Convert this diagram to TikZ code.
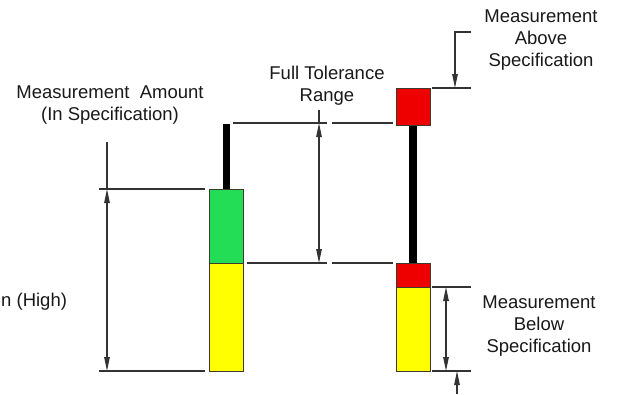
\documentclass[tikz,border=0pt]{standalone}
\usepackage{fontspec}
\setmainfont{Liberation Sans}
\usetikzlibrary{arrows.meta}
\begin{document}
\begin{tikzpicture}[x=1pt,y=-1pt,
  lbl/.style={font=\fontsize{18.5}{22}\selectfont, align=center, inner sep=0pt, text=black!90},
  dimline/.style={draw=black!80, line width=1.1pt},
  tip/.style={-{Triangle[length=14pt,width=5.5pt]}},
  tips/.style={{Triangle[length=14pt,width=5.5pt]}-{Triangle[length=14pt,width=5.5pt]}},
  barbox/.style={draw=black!75!olive, line width=0.9pt, inner sep=0pt, anchor=north west},
  stem/.style={fill=black, draw=none, inner sep=0pt, anchor=north west}
]
\useasboundingbox (0,0) rectangle (617,394);
\clip (0,0) rectangle (617,394);
\fill[white] (0,0) rectangle (617,394);

% left bar
\node[stem, minimum width=7pt, minimum height=66pt] (lstem) at (223,124) {};
\node[barbox, fill={rgb,255:red,34;green,221;blue,85}, minimum width=34pt, minimum height=74pt] (lgreen) at (209,189) {};
\node[barbox, fill={rgb,255:red,255;green,255;blue,0}, minimum width=34pt, minimum height=108pt] (lyellow) at (209,263) {};

% right bar
\node[stem, minimum width=8pt, minimum height=139pt] (rstem) at (409,124) {};
\node[barbox, fill={rgb,255:red,238;green,0;blue,0}, minimum width=34pt, minimum height=37pt] (rtop) at (396,88) {};
\node[barbox, fill={rgb,255:red,238;green,0;blue,0}, minimum width=34pt, minimum height=24pt] (rlow) at (396,263) {};
\node[barbox, fill={rgb,255:red,255;green,255;blue,0}, minimum width=34pt, minimum height=84pt] (ryellow) at (396,287) {};

% coordinates
\coordinate (a1) at (99,189);  \coordinate (a2) at (205,189);
\coordinate (b1) at (99,371);  \coordinate (b2) at (205,371);
\coordinate (dl0) at (107,142); \coordinate (dlt) at (107,189); \coordinate (dlb) at (107,371);
\coordinate (c1) at (233,123); \coordinate (c2) at (327,123); \coordinate (c3) at (332,123); \coordinate (c4) at (393,123);
\coordinate (e1) at (247,263); \coordinate (e2) at (327,263); \coordinate (e3) at (332,263); \coordinate (e4) at (393,263);
\coordinate (ft0) at (319,110); \coordinate (ftt) at (319,123); \coordinate (ftb) at (319,263);
\coordinate (g1) at (432,88);  \coordinate (g2) at (471,88);
\coordinate (h0) at (471,32); \coordinate (h1) at (455,32); \coordinate (h2) at (455,88);
\coordinate (i1) at (432,287); \coordinate (i2) at (471,287);
\coordinate (j1) at (432,371); \coordinate (j2) at (471,371);
\coordinate (bt) at (446,287); \coordinate (bb) at (446,371);
\coordinate (k0) at (457,394); \coordinate (k1) at (457,371);

% extension lines
\draw[dimline] (a1) -- (a2);
\draw[dimline] (b1) -- (b2);
\draw[dimline] (c1) -- (c2);
\draw[dimline] (c3) -- (c4);
\draw[dimline] (e1) -- (e2);
\draw[dimline] (e3) -- (e4);
\draw[dimline] (g1) -- (g2);
\draw[dimline] (i1) -- (i2);
\draw[dimline] (j1) -- (j2);

% dimension arrows
\draw[dimline] (dl0) -- (dlt);
\draw[dimline, tips] (dlt) -- (dlb);
\draw[dimline] (ft0) -- (ftt);
\draw[dimline, tips] (ftt) -- (ftb);
\draw[dimline, tip] (h0) -- (h1) -- (h2);
\draw[dimline, tips] (bt) -- (bb);
\draw[dimline, tip] (k0) -- (k1);

% labels
\node[lbl] (tamount) at (110,105) {Measurement~ Amount\\(In Specification)};
\node[lbl] (tfull) at (327,86) {Full Tolerance\\Range};
\node[lbl] (tabove) at (541,40) {Measurement\\Above\\Specification};
\node[lbl] (tbelow) at (539,326) {Measurement\\Below\\Specification};
\node[lbl, anchor=west] (thigh) at (1,302) {n (High)};
\end{tikzpicture}
\end{document}
